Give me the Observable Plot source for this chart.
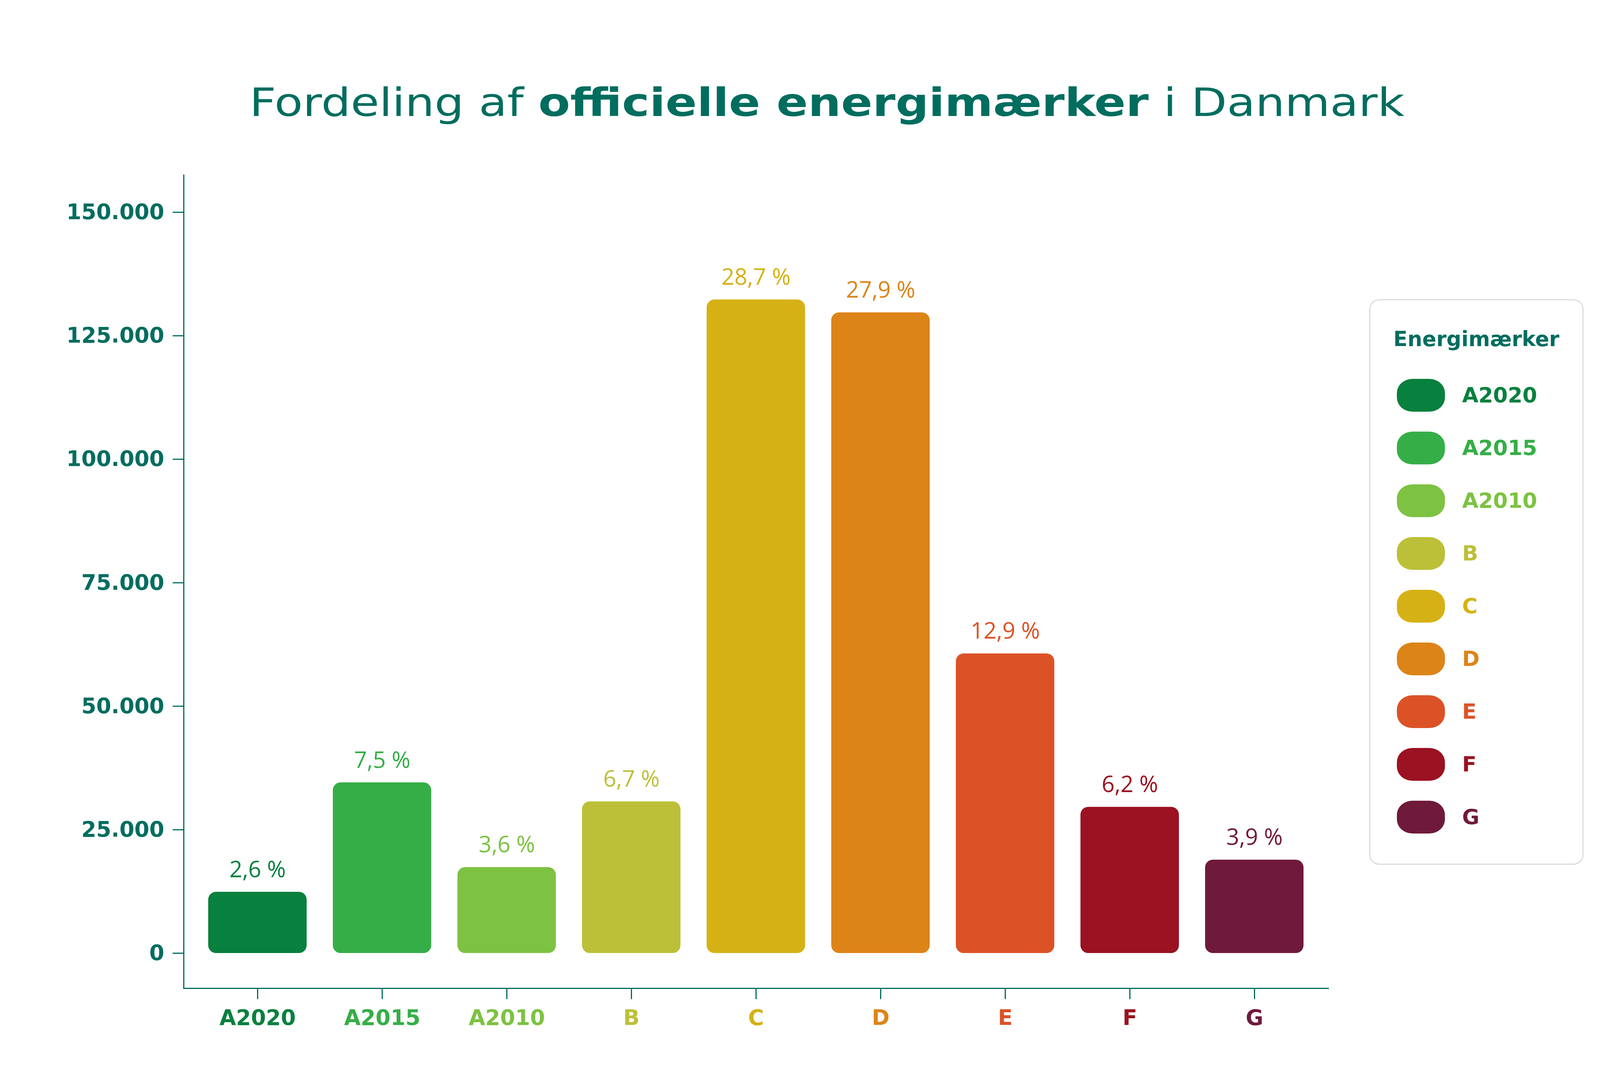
<!DOCTYPE html>
<html>
<head>
<meta charset="utf-8">
<script src="https://cdn.jsdelivr.net/npm/d3@7"></script>
<script src="https://cdn.jsdelivr.net/npm/@observablehq/plot@0.6"></script>
<style>
  html, body { margin: 0; padding: 0; background: #ffffff; }
  #page { position: relative; width: 4234px; height: 2783px; background: #ffffff; overflow: hidden; }
  #title {
    height: 400px; box-sizing: border-box; padding-top: 213px;
    text-align: center; font-family: "DejaVu Sans", sans-serif; font-size: 99px;
    line-height: 1; color: #006D5F; white-space: nowrap;
  }
  #title span { display: inline-block; transform-origin: 50% 50%; }
  #title b { font-weight: bold; }
  #legend {
    position: absolute; left: 3505px; top: 766px; width: 549px; height: 1448px;
    box-sizing: border-box; border: 3px solid #dcdcdc; border-radius: 26px; background: #fff;
    font-family: "DejaVu Sans", sans-serif;
  }
  #legend .lt {
    position: absolute; left: 0; right: 0; top: 72px; text-align: center;
    font-size: 53px; font-weight: bold; line-height: 1; color: #006D5F;
  }
  #legend .row {
    position: absolute; left: 68px; height: 84px; display: flex; align-items: center;
  }
  #legend .sw { width: 123px; height: 84px; border-radius: 40px / 36px; }
  #legend .lab { margin-left: 44px; font-size: 54px; font-weight: bold; line-height: 1; }
</style>
</head>
<body>
<div id="page">
  <div id="title"><span id="titleText">Fordeling af <b>officielle energimærker</b> i Danmark</span></div>
  <div id="chart"></div>
  <div id="legend"></div>
</div>
<script>
const categories = ["A2020", "A2015", "A2010", "B", "C", "D", "E", "F", "G"];
const counts = [12400, 34550, 17400, 30700, 132300, 129700, 60650, 29600, 18900];
const shares = ["2,6 %", "7,5 %", "3,6 %", "6,7 %", "28,7 %", "27,9 %", "12,9 %", "6,2 %", "3,9 %"];
const colors = ["#08803E", "#36AE47", "#7DC242", "#BCC038", "#D6B115", "#DD8419", "#DC5227", "#9B1222", "#6F1A3A"];
const yTicks = [0, 25000, 50000, 75000, 100000, 125000, 150000];
const legendTitle = "Energimærker";
const teal = "#006D5F";

const data = categories.map((c, i) => ({category: c, count: counts[i], share: shares[i]}));
const locale = d3.formatLocale({decimal: ",", thousands: ".", grouping: [3], currency: ["", " kr"]});
const fmt = locale.format(",");

const chart = Plot.plot({
  width: 4234,
  height: 2383,
  marginLeft: 470,
  marginRight: 834,
  marginTop: 48,
  marginBottom: 253,
  style: {background: "white", fontFamily: "DejaVu Sans", overflow: "visible"},
  x: {domain: categories, paddingInner: 0.21, paddingOuter: 0.188, label: null},
  y: {domain: [0, 150000], range: [2040, 143], label: null},
  color: {domain: categories, range: colors},
  marks: [
    Plot.barY(data, {x: "category", y: "count", fill: "category", rx: 20}),
    Plot.text(data, {
      x: "category", y: "count", text: "share", fill: "category",
      lineAnchor: "bottom", dy: -38, fontSize: 58, fontFamily: "Open Sans", fontWeight: 400
    }),
    Plot.axisY({
      ticks: yTicks, tickSize: 28, tickPadding: 22, tickFormat: fmt,
      stroke: teal, fill: teal, strokeWidth: 3, fontSize: 55, fontWeight: "bold",
      fontFamily: "DejaVu Sans", label: null
    }),
    Plot.axisX({
      tickSize: 28, tickPadding: 26, stroke: teal, strokeWidth: 3,
      fill: d => d, fontSize: 55, fontWeight: "bold", fontFamily: "DejaVu Sans", label: null
    }),
    Plot.frame({anchor: "left", stroke: teal, strokeWidth: 3}),
    Plot.frame({anchor: "bottom", stroke: teal, strokeWidth: 3})
  ]
});
document.getElementById("chart").appendChild(chart);

// Title: stretch horizontally to the reference's wide, geometric lettering
const tt = document.getElementById("titleText");
const targetTitleWidth = 2957;
const w = tt.getBoundingClientRect().width;
if (w > 0) tt.style.transform = "scaleX(" + (targetTitleWidth / w) + ")";

// Legend (HTML), built from the same arrays
const legend = document.getElementById("legend");
const lt = document.createElement("div");
lt.className = "lt";
lt.textContent = legendTitle;
legend.appendChild(lt);
categories.forEach((c, i) => {
  const row = document.createElement("div");
  row.className = "row";
  row.style.top = (201 + i * 135) + "px";
  const sw = document.createElement("div");
  sw.className = "sw";
  sw.style.background = colors[i];
  const lab = document.createElement("div");
  lab.className = "lab";
  lab.style.color = colors[i];
  lab.textContent = c;
  row.appendChild(sw);
  row.appendChild(lab);
  legend.appendChild(row);
});
</script>
</body>
</html>
